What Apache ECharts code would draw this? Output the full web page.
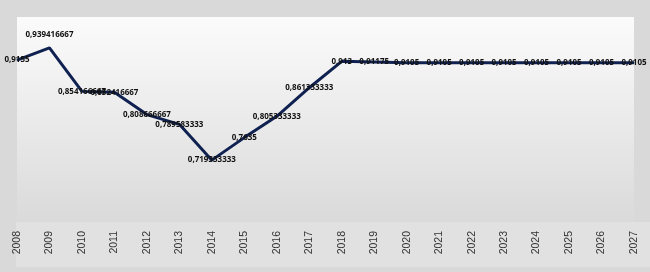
<!DOCTYPE html>
<html>
<head>
<meta charset="utf-8">
<script src="https://cdn.jsdelivr.net/npm/echarts@6/dist/echarts.min.js"></script>
<style>
  html, body { margin: 0; padding: 0; background: #d9d9d9; }
  #chart { width: 650px; height: 272px; }
</style>
</head>
<body>
<div id="chart"></div>
<script>
  // años y valores
  const years = ['2008', '2009', '2010', '2011', '2012', '2013', '2014', '2015', '2016', '2017',
    '2018', '2019', '2020', '2021', '2022', '2023', '2024', '2025', '2026', '2027']
  const values = [0.9155, 0.939416667, 0.854166667, 0.852416667, 0.808666667, 0.789583333,
    0.719333333, 0.7635, 0.805333333, 0.861333333, 0.913, 0.91175, 0.9105, 0.9105, 0.9105,
    0.9105, 0.9105, 0.9105, 0.9105, 0.9105]
  const labelText = ['0,9155', '0,939416667', '0,854166667', '0,852416667', '0,808666667',
    '0,789583333', '0,719333333', '0,7635', '0,805333333', '0,861333333', '0,913', '0,91175',
    '0,9105', '0,9105', '0,9105', '0,9105', '0,9105', '0,9105', '0,9105', '0,9105']

  let myChart = echarts.init(document.getElementById('chart'))

  let seriesData = values.map((v, i) => ({
    value: v,
    label: {
      position: i === 1 ? 'top' : 'inside',
      distance: 9,
      formatter: labelText[i]
    }
  }))

  let option = {
    backgroundColor: '#d9d9d9',
    animation: false,
    graphic: [{
      type: 'rect',
      z: -1,
      shape: { x: 16, y: 222, width: 634, height: 45 },
      style: { fill: '#e1e1e1' }
    }],
    grid: {
      left: 17,
      right: 16,
      top: 17,
      bottom: 51,
      show: true,
      borderWidth: 0,
      backgroundColor: {
        type: 'linear', x: 0, y: 0, x2: 0, y2: 1,
        colorStops: [
          { offset: 0, color: '#fbfbfb' },
          { offset: 1, color: '#dadada' }
        ]
      }
    },
    xAxis: {
      type: 'category',
      data: years,
      boundaryGap: false,
      axisLine: { show: false },
      axisTick: { show: false },
      axisLabel: {
        rotate: 90,
        margin: 10,
        fontSize: 10.5,
        fontFamily: 'Liberation Sans',
        color: '#333'
      }
    },
    yAxis: {
      type: 'value',
      min: 0.6,
      max: 1.0,
      show: false
    },
    series: [{
      type: 'line',
      data: seriesData,
      showSymbol: true,
      symbol: 'circle',
      symbolSize: 1,
      itemStyle: { color: '#0f2150' },
      lineStyle: { color: '#0f2150', width: 3 },
      label: {
        show: true,
        fontSize: 8,
        fontWeight: 'bold',
        fontFamily: 'Noto Sans',
        color: '#111'
      },
      z: 3
    }]
  }
  myChart.setOption(option)
</script>
</body>
</html>
